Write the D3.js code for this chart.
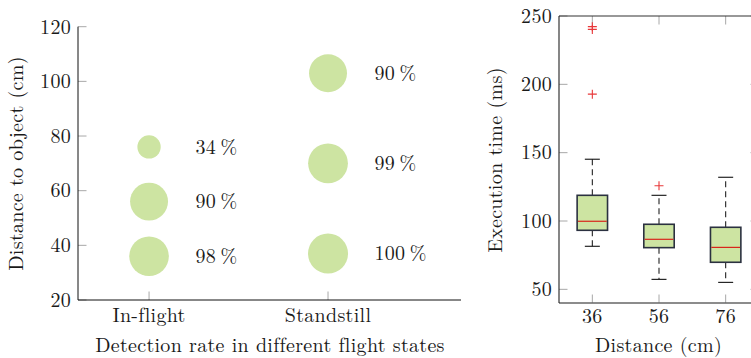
<!DOCTYPE html>
<html>
<head>
<meta charset="utf-8">
<script src="https://cdn.jsdelivr.net/npm/d3@7"></script>
<style>
  html, body { margin: 0; padding: 0; background: #fff; }
  svg text { font-family: "Latin Modern Roman", "CMU Serif", "Liberation Serif", serif; fill: #1a1a1a; letter-spacing: 0.3px; }
</style>
</head>
<body>
<svg id="chart" width="751" height="358"></svg>
<script>
// Detection rate per flight state and distance
const states = ["In-flight", "Standstill"];
const inflightDistance = [76, 56, 36];
const inflightRate = [34, 90, 98];
const standstillDistance = [103, 70, 37];
const standstillRate = [90, 99, 100];
const distanceTicks = [20, 40, 60, 80, 100, 120];

// Execution time box plots per distance
const boxDistances = ["36", "56", "76"];
const lowerWhisker = [81.5, 57.3, 55.1];
const lowerQuartile = [93.2, 80.5, 69.8];
const median = [99.8, 86.6, 80.7];
const upperQuartile = [118.8, 97.6, 95.4];
const upperWhisker = [145.2, 118.8, 132.0];
const outliers36 = [242.2, 240.2, 192.8];
const outliers56 = [125.8];
const outliers76 = [];
const timeTicks = [50, 100, 150, 200, 250];

const svg = d3.select("#chart");
const green = "#cde4a2";
const tickColor = "#a8a8a8";
const tickLen = 8.5;
const fontSize = 20;

// ---------- Left panel: bubble chart ----------
const L = { left: 78, right: 461, top: 26.7, bottom: 300 };
const xL = d3.scaleLinear().domain([-0.397, 1.743]).range([L.left, L.right]);
const yL = d3.scaleLinear().domain([20, 120]).range([L.bottom, L.top]);
const rL = d3.scaleSqrt().domain([0, 100]).range([0, 20]);

const left = svg.append("g");

// inward ticks
left.selectAll(".ytick").data(distanceTicks).join("line")
  .attr("x1", L.left).attr("x2", L.left + tickLen)
  .attr("y1", d => yL(d)).attr("y2", d => yL(d))
  .attr("stroke", tickColor).attr("stroke-width", 1);
left.selectAll(".xtick").data(states).join("line")
  .attr("x1", (d, i) => xL(i)).attr("x2", (d, i) => xL(i))
  .attr("y1", L.bottom).attr("y2", L.bottom - tickLen)
  .attr("stroke", tickColor).attr("stroke-width", 1);

// axis lines
left.append("path")
  .attr("d", `M${L.left},${L.top}V${L.bottom}H${L.right}`)
  .attr("fill", "none").attr("stroke", "#111").attr("stroke-width", 1);

// tick labels
left.selectAll(".ylab").data(distanceTicks).join("text")
  .attr("x", L.left - 7).attr("y", d => yL(d)).attr("dy", "0.34em")
  .attr("text-anchor", "end").attr("font-size", fontSize).text(d => d);
left.selectAll(".xlab").data(states).join("text")
  .attr("x", (d, i) => xL(i)).attr("y", 322)
  .attr("text-anchor", "middle").attr("font-size", fontSize).text(d => d);

// bubbles with rate labels
const bubbleSets = [
  { idx: 0, dist: inflightDistance, rate: inflightRate },
  { idx: 1, dist: standstillDistance, rate: standstillRate }
];
bubbleSets.forEach(s => {
  const pts = s.dist.map((d, k) => ({ d, r: s.rate[k] }));
  left.selectAll(null).data(pts).join("circle")
    .attr("cx", xL(s.idx)).attr("cy", p => yL(p.d))
    .attr("r", p => rL(p.r)).attr("fill", green);
  left.selectAll(null).data(pts).join("text")
    .attr("x", xL(s.idx) + 46.5).attr("y", p => yL(p.d)).attr("dy", "0.34em")
    .attr("font-size", fontSize).text(p => p.r + "\u2009%");
});

// axis titles
left.append("text")
  .attr("transform", "translate(23,163.5) rotate(-90)")
  .attr("text-anchor", "middle").attr("font-size", fontSize)
  .text("Distance to object (cm)");
left.append("text")
  .attr("x", 270).attr("y", 352)
  .attr("text-anchor", "middle").attr("font-size", fontSize)
  .text("Detection rate in different flight states");

// ---------- Right panel: box plots ----------
const R = { left: 559, right: 759, top: 16, bottom: 303 };
const xR = d3.scaleLinear().domain([0.5, 3.5]).range([R.left, R.right]);
const yR = d3.scaleLinear().domain([40, 250]).range([R.bottom, R.top]);

const right = svg.append("g");

// mirrored inward ticks
timeTicks.forEach(t => {
  right.append("line").attr("x1", R.left).attr("x2", R.left + tickLen)
    .attr("y1", yR(t)).attr("y2", yR(t)).attr("stroke", tickColor);
  right.append("line").attr("x1", R.right).attr("x2", R.right - tickLen)
    .attr("y1", yR(t)).attr("y2", yR(t)).attr("stroke", tickColor);
});
boxDistances.forEach((d, i) => {
  const x = xR(i + 1);
  right.append("line").attr("x1", x).attr("x2", x)
    .attr("y1", R.bottom).attr("y2", R.bottom - tickLen).attr("stroke", tickColor);
  right.append("line").attr("x1", x).attr("x2", x)
    .attr("y1", R.top).attr("y2", R.top + tickLen).attr("stroke", tickColor);
});

const boxes = boxDistances.map((d, i) => ({
  i, lw: lowerWhisker[i], q1: lowerQuartile[i], med: median[i],
  q3: upperQuartile[i], uw: upperWhisker[i]
}));
const boxW = 30.4, capW = 15;

boxes.forEach(b => {
  const cx = xR(b.i + 1);
  const g = right.append("g");
  // whiskers
  g.append("line").attr("x1", cx).attr("x2", cx)
    .attr("y1", yR(b.q3)).attr("y2", yR(b.uw))
    .attr("stroke", "#222").attr("stroke-width", 1.1).attr("stroke-dasharray", "6,4");
  g.append("line").attr("x1", cx).attr("x2", cx)
    .attr("y1", yR(b.q1)).attr("y2", yR(b.lw))
    .attr("stroke", "#222").attr("stroke-width", 1.1).attr("stroke-dasharray", "6,4");
  g.append("line").attr("x1", cx - capW / 2).attr("x2", cx + capW / 2)
    .attr("y1", yR(b.uw)).attr("y2", yR(b.uw)).attr("stroke", "#111").attr("stroke-width", 1.1);
  g.append("line").attr("x1", cx - capW / 2).attr("x2", cx + capW / 2)
    .attr("y1", yR(b.lw)).attr("y2", yR(b.lw)).attr("stroke", "#111").attr("stroke-width", 1.1);
  // box
  g.append("rect").attr("x", cx - boxW / 2).attr("y", yR(b.q3))
    .attr("width", boxW).attr("height", yR(b.q1) - yR(b.q3))
    .attr("fill", green).attr("stroke", "#2b3140").attr("stroke-width", 1.6);
  // median
  g.append("line").attr("x1", cx - boxW / 2 + 0.8).attr("x2", cx + boxW / 2 - 0.8)
    .attr("y1", yR(b.med)).attr("y2", yR(b.med))
    .attr("stroke", "#d8261c").attr("stroke-width", 1.2);
});

// outliers
const outlierSets = [outliers36, outliers56, outliers76];
outlierSets.forEach((vals, i) => {
  const cx = xR(i + 1);
  vals.forEach(v => {
    const y = yR(v), s = 4.5;
    right.append("path")
      .attr("d", `M${cx - s},${y}H${cx + s}M${cx},${y - s}V${y + s}`)
      .attr("stroke", "#e8383a").attr("stroke-width", 1.1).attr("fill", "none");
  });
});

// frame
right.append("line").attr("x1", R.left).attr("x2", R.right).attr("y1", R.top).attr("y2", R.top)
  .attr("stroke", "#333").attr("stroke-width", 1.1);
right.append("line").attr("x1", R.left).attr("x2", R.right).attr("y1", R.bottom).attr("y2", R.bottom)
  .attr("stroke", "#666").attr("stroke-width", 1.3);
right.append("line").attr("x1", R.left).attr("x2", R.left).attr("y1", R.top).attr("y2", R.bottom)
  .attr("stroke", "#222").attr("stroke-width", 1.1);
right.append("line").attr("x1", R.right).attr("x2", R.right).attr("y1", R.top).attr("y2", R.bottom)
  .attr("stroke", "#222").attr("stroke-width", 1.1);

// tick labels
right.selectAll(".ylab").data(timeTicks).join("text")
  .attr("x", R.left - 7).attr("y", d => yR(d)).attr("dy", "0.34em")
  .attr("text-anchor", "end").attr("font-size", fontSize).text(d => d);
right.selectAll(".xlab").data(boxDistances).join("text")
  .attr("x", (d, i) => xR(i + 1)).attr("y", 323)
  .attr("text-anchor", "middle").attr("font-size", fontSize).text(d => d);

// axis titles
right.append("text")
  .attr("transform", "translate(502,160) rotate(-90)")
  .attr("text-anchor", "middle").attr("font-size", fontSize)
  .text("Execution time (ms)");
right.append("text")
  .attr("x", 658.5).attr("y", 352)
  .attr("text-anchor", "middle").attr("font-size", fontSize)
  .text("Distance (cm)");
</script>
</body>
</html>
